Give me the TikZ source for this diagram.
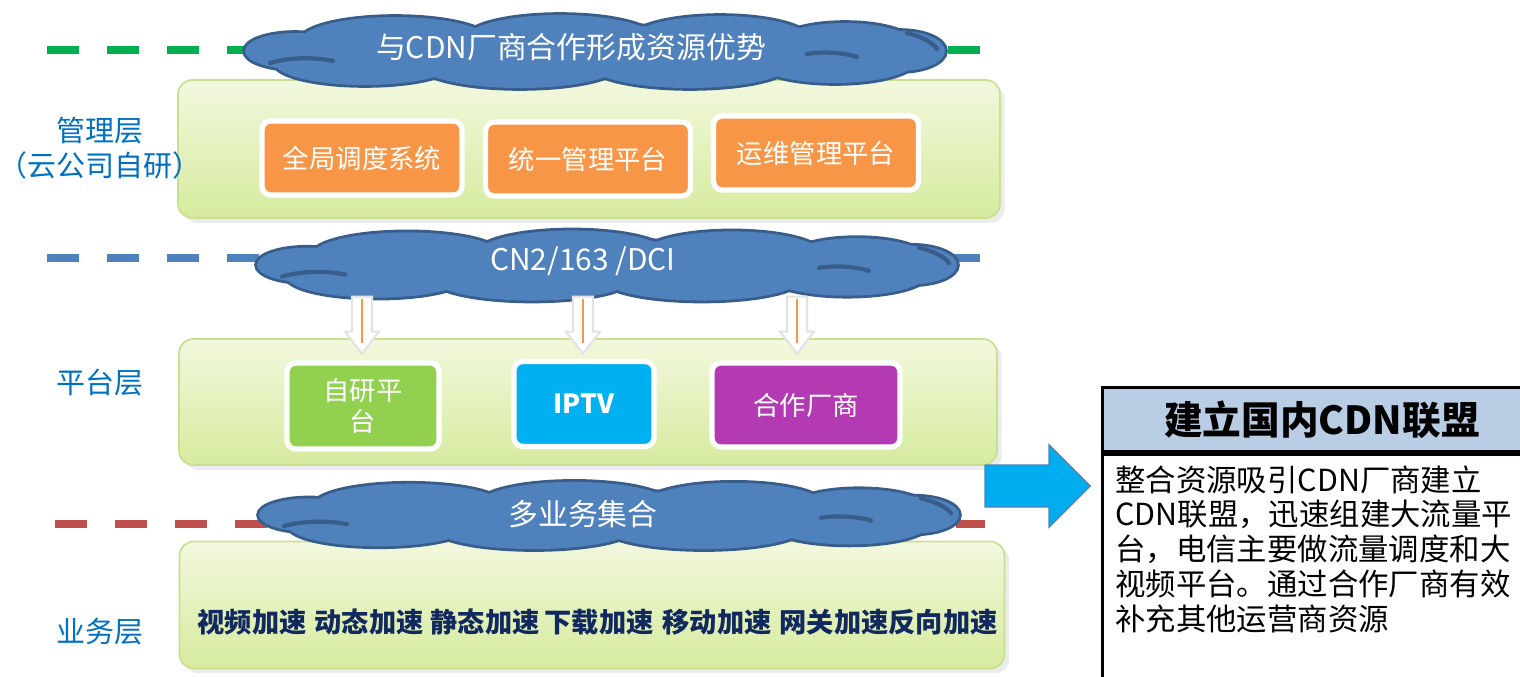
\documentclass[tikz,border=0pt]{standalone}
\usepackage{fontspec}
\setmainfont{Noto Sans CJK SC}
\usepackage{tikz}
\usetikzlibrary{positioning,calc,shadows}
\definecolor{lineGreen}{HTML}{00B050}
\definecolor{lineBlue}{HTML}{4F81BD}
\definecolor{lineRed}{HTML}{C0504D}
\definecolor{cloudFill}{HTML}{4F81BD}
\definecolor{cloudEdge}{HTML}{385D8A}
\definecolor{labelBlue}{HTML}{0070C0}
\definecolor{boxOrange}{HTML}{F79646}
\definecolor{boxGreen}{HTML}{92D050}
\definecolor{boxBlue}{HTML}{00B0F0}
\definecolor{boxPurple}{HTML}{B43AB4}
\definecolor{layerTop}{HTML}{F2F8DE}
\definecolor{layerBot}{HTML}{D6EB9E}
\definecolor{layerEdge}{HTML}{C9E090}
\definecolor{navyText}{HTML}{12295F}
\definecolor{headFill}{HTML}{B9CDE5}
\definecolor{bigArrow}{HTML}{00AEEF}

\begin{document}
\begin{tikzpicture}[
		x=0.02cm, y=-0.02cm,
		DashLine/.style={line width=4.5pt, dash pattern=on 18.1pt off 16.1pt},
		LayerBox/.style={rounded corners=8pt, draw=layerEdge, line width=1pt,
			top color=layerTop, bottom color=layerBot, drop shadow={opacity=0.15}},
		LayerLabel/.style={text=labelBlue, font=\fontsize{16.5}{20}\selectfont, align=center},
		InnerBox/.style={rounded corners=5pt, draw=white, line width=3pt,
			drop shadow={opacity=0.25, shadow xshift=1pt, shadow yshift=-1pt},
			text=white, font=\fontsize{15}{18}\selectfont, align=center, inner sep=0pt},
		CloudText/.style={text=white, font=\fontsize{17}{20}\selectfont},
		NetCloud/.pic={
			% puffs: x, y, x radius, y radius
			\foreach \dx/\dy/\rx/\ry in {-200/-10/95/24, -35/-12/95/24, 125/-11/90/24, 250/-6/70/22,
				-300/0/50/18, 305/0/45/20, -230/12/90/22, -75/14/100/23, 95/14/100/23, 240/10/80/22, 0/0/300/25}
				\draw[cloudEdge, line width=3.2pt] (\dx,\dy) ellipse [x radius=\rx, y radius=\ry];
			\foreach \dx/\dy/\rx/\ry in {-200/-10/95/24, -35/-12/95/24, 125/-11/90/24, 250/-6/70/22,
				-300/0/50/18, 305/0/45/20, -230/12/90/22, -75/14/100/23, 95/14/100/23, 240/10/80/22, 0/0/300/25}
				\fill[cloudFill] (\dx,\dy) ellipse [x radius=\rx, y radius=\ry];
			% a few inner folds
			\draw[cloudEdge, line width=2.4pt, line cap=round] (-325,12) .. controls (-305,6) and (-280,6) .. (-262,10);
			\draw[cloudEdge, line width=2.4pt, line cap=round] (212,3) .. controls (230,0) and (250,2) .. (262,6);
			\draw[cloudEdge, line width=2.4pt, line cap=round] (312,-18) .. controls (328,-14) and (338,-8) .. (342,-2);
			\coordinate (-base) at (0,33);
		},
		FeedArrow/.pic={
			\draw[fill=white, draw=gray!22, line width=1.2pt]
				(-10,0) -- (10,0) -- (10,35) -- (17,35) -- (0,57) -- (-17,35) -- (-10,35) -- cycle;
			\draw[boxOrange, line width=0.9pt] (0,2) -- (0,46);
		},
		every node/.style={inner sep=0pt}
		]
		\useasboundingbox (0,0) rectangle (1520,676);
		\clip (0,0) rectangle (1520,676);
		
		% dashed separators
		\coordinate (gL) at (47,50);   \coordinate (gR) at (985,50);
		\coordinate (bL) at (47,258);  \coordinate (bR) at (985,258);
		\coordinate (rL) at (55,524);  \coordinate (rR) at (985,524);
		\draw[DashLine, lineGreen] (gL)--(gR);
		\draw[DashLine, lineBlue] (bL)--(bR);
		\draw[DashLine, lineRed] (rL)--(rR);
		
		% layers
		\node[LayerBox, minimum width=16.44cm, minimum height=2.76cm] (mgmt) at (589,149) {};
		\node[LayerBox, minimum width=16.36cm, minimum height=2.52cm] (plat) at (588,402) {};
		\node[LayerBox, minimum width=16.5cm, minimum height=2.54cm] (serv) at (592,605) {};
		
		\node[LayerLabel] (mgmtLbl) at (100,148) {管理层\\（云公司自研）};
		\node[LayerLabel] (platLbl) at (100,383) {平台层};
		\node[LayerLabel] (servLbl) at (100,632) {业务层};
		
		% management boxes
		\node[InnerBox, fill=boxOrange, minimum width=4.0cm, minimum height=1.48cm] (sched) at (362,158) {全局调度系统};
		\node[InnerBox, fill=boxOrange, minimum width=4.1cm, minimum height=1.48cm] (unify) at (588,159) {统一管理平台};
		\node[InnerBox, fill=boxOrange, minimum width=4.1cm, minimum height=1.48cm] (ops) at (816,153) {运维管理平台};
		
		% platform boxes
		\node[InnerBox, fill=boxGreen, minimum width=3.04cm, minimum height=1.72cm] (self) at (363,406) {自研平\\台};
		\node[InnerBox, fill=boxBlue, minimum width=2.8cm, minimum height=1.7cm, font=\fontsize{15}{18}\selectfont\bfseries] (iptv) at (584,404) {IPTV};
		\node[InnerBox, fill=boxPurple, minimum width=3.76cm, minimum height=1.68cm] (partner) at (806,405) {合作厂商};
		
		% clouds
		\pic (cl1) at (595,51) {NetCloud};
		\node[CloudText] (cl1Txt) at (571,47) {与CDN厂商合作形成资源优势};
		\pic[yscale=0.96] (cl2) at (607,265) {NetCloud};
		\node[CloudText] (cl2Txt) at (583,261) {CN2/163 /DCI};
		\pic[yscale=0.92] (cl3) at (609,515) {NetCloud};
		\node[CloudText] (cl3Txt) at (583,514) {多业务集合};
		
		% arrows from the network cloud
		\foreach \tgt/\dx in {self/-1, iptv/-1, partner/-9}{
			\pic at ([xshift=\dx*0.02cm]cl2-base -| \tgt.north) {FeedArrow};
		}
		
		% services
		\foreach \sx/\name in {252/视频加速, 369/动态加速, 485/静态加速, 599/下载加速, 717/移动加速, 834/网关加速, 943/反向加速}{
			\node[text=navyText, font=\fontsize{15.5}{18}\selectfont\bfseries] (svc\sx) at (\sx,622) {\name};
		}
		
		% alliance box
		\coordinate (goTail) at (985,486);
		\draw[fill=bigArrow, draw=lineBlue, line width=0.8pt] (goTail) ++(0,-21) -- ++(64,0) -- ++(0,-20)
			-- (1090,486) -- (1049,527) -- ++(0,-20) -- ++(-64,0) -- cycle;
		\node[draw=black, line width=1.7pt, fill=headFill, minimum width=8.78cm, minimum height=1.28cm,
			anchor=north west, font=\fontsize{22}{26}\selectfont\bfseries] (head) at (1101,386) {建立国内CDN联盟};
		\node[draw=black, line width=1.7pt, minimum width=8.78cm, minimum height=5cm, anchor=north west] (body) at (head.south west) {};
		\node[anchor=north west, align=left, font=\fontsize{17.3}{19.85}\selectfont] (bodyTxt) at (1115,465)
			{整合资源吸引CDN厂商建立\\CDN联盟，迅速组建大流量平\\台，电信主要做流量调度和大\\视频平台。通过合作厂商有效\\补充其他运营商资源};
		
\end{tikzpicture}
\end{document}
